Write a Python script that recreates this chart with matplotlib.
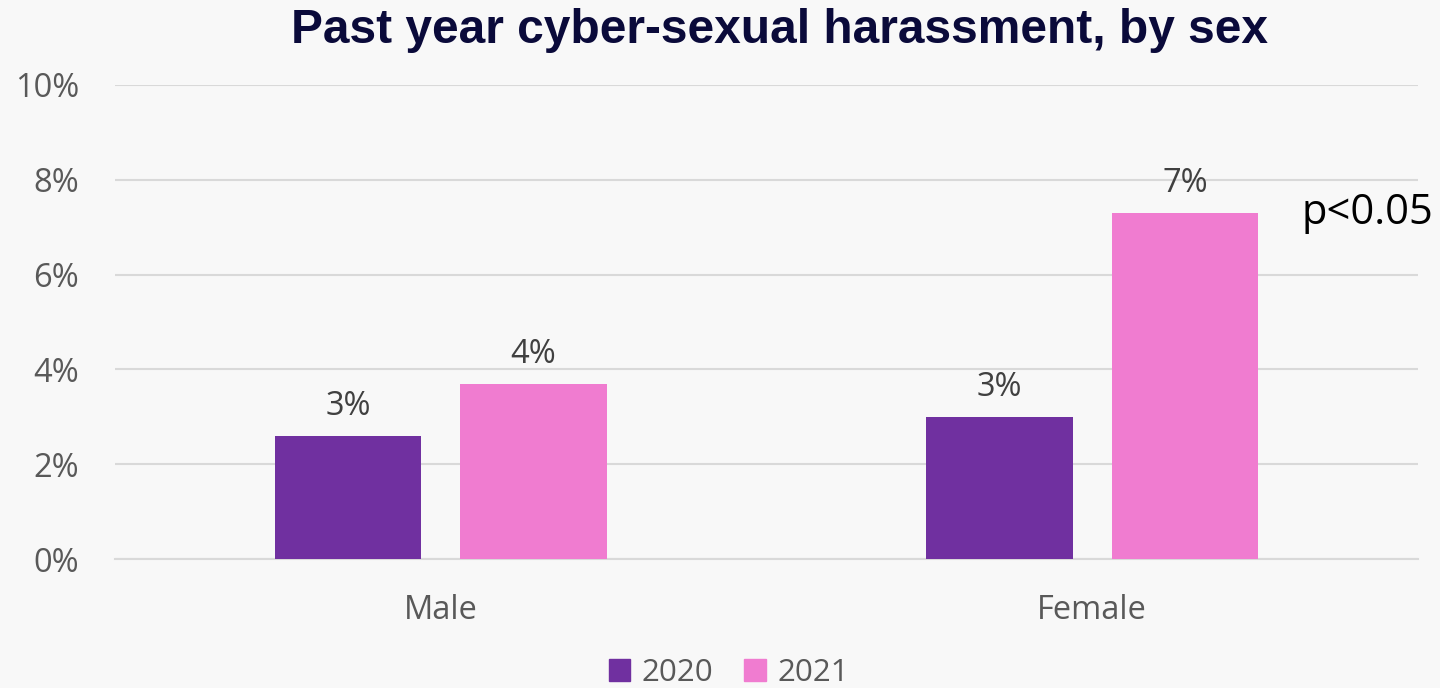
import matplotlib.pyplot as plt
import matplotlib.patches as mpatches
import numpy as np

# Data.
categories = ['Male', 'Female']
years = ['2020', '2021']
values_2020 = [0.026, 0.030]
values_2021 = [0.037, 0.073]
labels_2020 = ['3%', '3%']
labels_2021 = ['4%', '7%']
y_ticks = [0.0, 0.02, 0.04, 0.06, 0.08, 0.10]
y_tick_labels = ['0%', '2%', '4%', '6%', '8%', '10%']

purple = '#7030A0'
pink = '#F07CD0'
grey_text = '#595959'
grid_grey = '#D9D9D9'
background = '#F8F8F8'

figure = plt.figure(figsize=(14.4, 6.88), dpi=100, facecolor=background)
axes = figure.add_axes([0.0799, 0.1875, 0.9048, 0.689])
axes.set_facecolor(background)

x = np.arange(len(categories))
width = 0.225
offset = 0.1425

bars_2020 = axes.bar(x - offset, values_2020, width, color=purple, zorder=3)
bars_2021 = axes.bar(x + offset, values_2021, width, color=pink, zorder=3)

# Value labels above each bar.
for bars, labels in ((bars_2020, labels_2020), (bars_2021, labels_2021)):
    for bar, label in zip(bars, labels):
        axes.annotate(label, xy=(bar.get_x() + bar.get_width() / 2, bar.get_height()),
                      xytext=(0, 9), textcoords='offset points', ha='center', va='bottom',
                      fontsize=23.5, color='#404040', family='Open Sans')

axes.set_xlim(-0.5, 1.5)
axes.set_ylim(0, 0.10)
axes.set_yticks(y_ticks)
axes.set_yticklabels(y_tick_labels)
axes.set_xticks(x)
axes.set_xticklabels(categories)
axes.tick_params(axis='both', length=0, labelsize=23.5, labelcolor=grey_text)
axes.tick_params(axis='y', pad=26)
axes.tick_params(axis='x', pad=25)
for label in axes.get_xticklabels() + axes.get_yticklabels():
    label.set_family('Open Sans')

axes.yaxis.grid(color=grid_grey, linewidth=1.5)
axes.set_axisbelow(True)
axes.spines[['left', 'right', 'top']].set_visible(False)
axes.spines['bottom'].set_color(grid_grey)
axes.spines['bottom'].set_linewidth(1.5)

# Significance note to the right of the female 2021 bar.
figure.text(1433 / 1440, 1 - 213 / 688, 'p<0.05', ha='right', va='center',
            fontsize=30, color='black', family='Open Sans')

figure.text(0.541, 0.955, 'Past year cyber-sexual harassment, by sex', ha='center', va='center',
            fontsize=34.5, fontweight='bold', color='#0A0A3A', family='Liberation Sans')

handles = [mpatches.Patch(color=purple, label=years[0]), mpatches.Patch(color=pink, label=years[1])]
figure.legend(handles=handles, loc='center', bbox_to_anchor=(0.506, 0.022), ncol=2, frameon=False,
              prop={'family': 'Open Sans', 'size': 22.5}, labelcolor=grey_text,
              handlelength=0.7, handleheight=0.7, handletextpad=0.35, columnspacing=1.0,
              borderpad=0.1)

figure.savefig('out.png', dpi=100, facecolor=background)
